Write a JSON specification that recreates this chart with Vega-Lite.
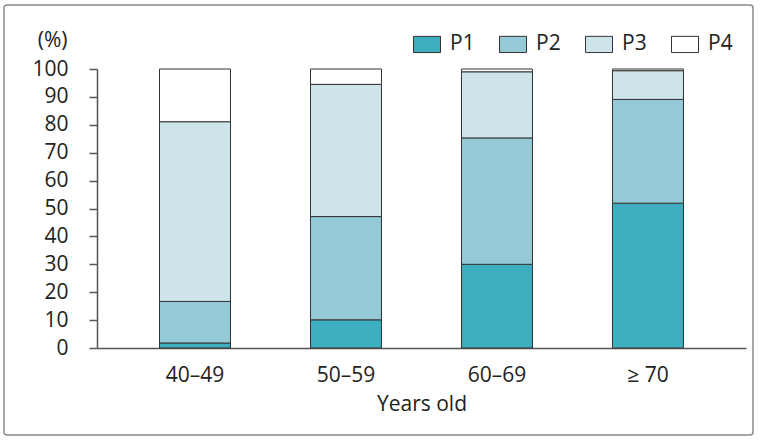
{
  "$schema": "https://vega.github.io/schema/vega-lite/v6.json",
  "width": 749,
  "height": 430,
  "autosize": {"type": "none"},
  "padding": {"left": 4, "top": 5, "right": 9, "bottom": 6},
  "background": "white",
  "config": {
    "font": "Open Sans",
    "view": {"stroke": "#8a8a8a", "strokeWidth": 1.5, "cornerRadius": 3},
    "axis": {"labelColor": "#222", "titleColor": "#222", "domainColor": "#555", "tickColor": "#555", "labelFontSize": 21, "titleFontSize": 21, "titleFontWeight": "normal", "grid": false}
  },
  "data": {"values": [
    {"age": "40–49", "grade": "P1", "value": 1.8},
    {"age": "40–49", "grade": "P2", "value": 14.9},
    {"age": "40–49", "grade": "P3", "value": 64.4},
    {"age": "40–49", "grade": "P4", "value": 18.9},
    {"age": "50–59", "grade": "P1", "value": 10.1},
    {"age": "50–59", "grade": "P2", "value": 37.0},
    {"age": "50–59", "grade": "P3", "value": 47.4},
    {"age": "50–59", "grade": "P4", "value": 5.5},
    {"age": "60–69", "grade": "P1", "value": 30.0},
    {"age": "60–69", "grade": "P2", "value": 45.3},
    {"age": "60–69", "grade": "P3", "value": 23.7},
    {"age": "60–69", "grade": "P4", "value": 1.0},
    {"age": "≥ 70", "grade": "P1", "value": 51.9},
    {"age": "≥ 70", "grade": "P2", "value": 37.2},
    {"age": "≥ 70", "grade": "P3", "value": 10.3},
    {"age": "≥ 70", "grade": "P4", "value": 0.6}
  ]},
  "mark": {"type": "bar", "stroke": "#333", "strokeWidth": 1},
  "encoding": {
    "x": {
      "field": "age", "type": "nominal", "sort": null,
      "scale": {"range": [93, 742], "paddingInner": 0.53, "paddingOuter": 0.414},
      "axis": {"title": "Years old", "labelAngle": 0, "ticks": false, "offset": -87, "labelPadding": 16, "titlePadding": 8, "domainWidth": 1.5}
    },
    "y": {
      "field": "value", "type": "quantitative", "stack": "zero",
      "scale": {"domain": [0, 100], "range": [343, 64], "nice": false},
      "axis": {"title": "(%)", "values": [0,10,20,30,40,50,60,70,80,90,100], "offset": -93, "tickSize": 8, "labelPadding": 21, "domainWidth": 1.5, "tickWidth": 1.5, "titleAngle": 0, "titleAlign": "right", "titleBaseline": "middle", "titleX": -30, "titleY": 35}
    },
    "order": {"field": "grade", "sort": "ascending"},
    "color": {
      "field": "grade", "type": "nominal",
      "scale": {"domain": ["P1", "P2", "P3", "P4"], "range": ["#3DAEC0", "#93CAD6", "#CDE4EA", "#FFFFFF"]},
      "legend": {"title": null, "orient": "none", "legendX": 409, "legendY": 25, "direction": "horizontal", "columns": 4, "gridAlign": "all", "symbolType": "M-1,-0.6H1V0.6H-1Z", "symbolSize": 729, "symbolStrokeColor": "#333", "symbolStrokeWidth": 1, "symbolOpacity": 1, "labelFontSize": 21, "labelColor": "#222", "labelOffset": 9, "columnPadding": 22}
    }
  }
}
